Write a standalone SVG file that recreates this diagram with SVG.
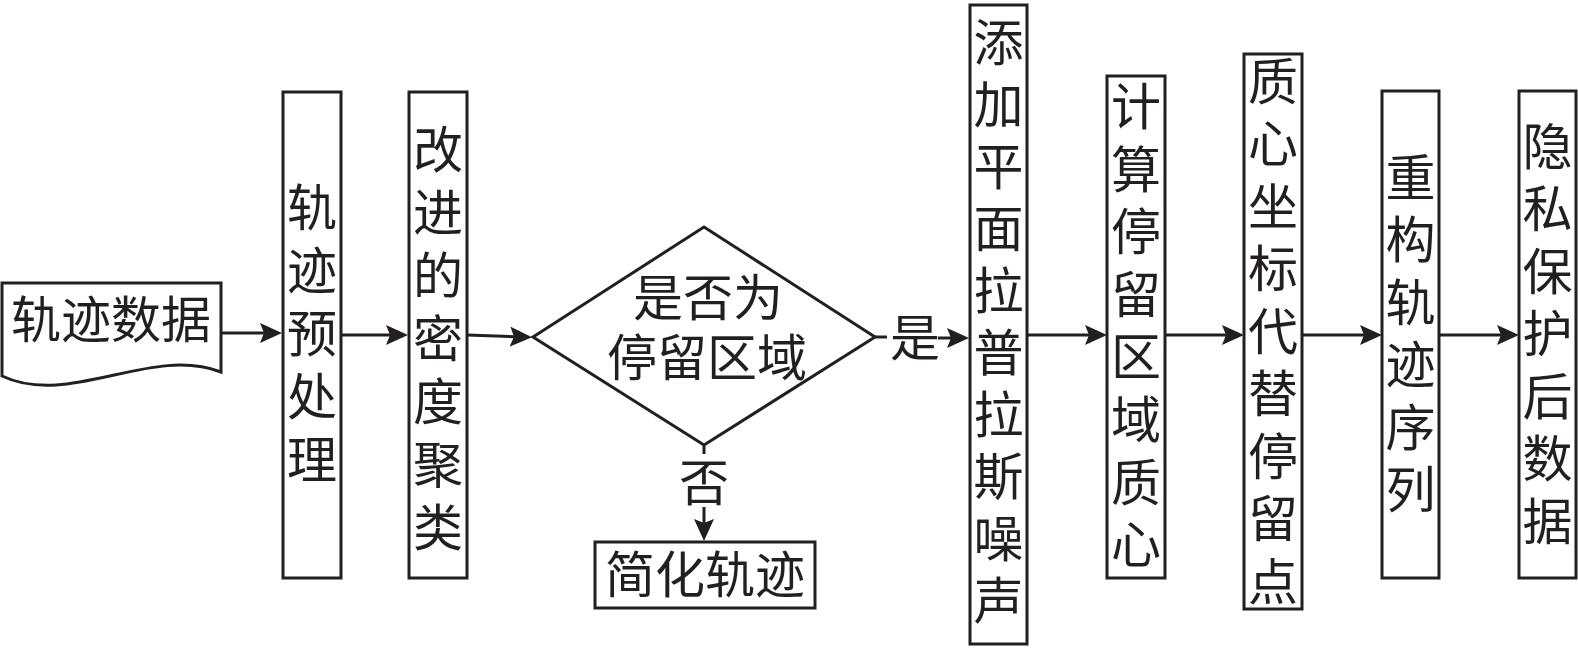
<svg xmlns="http://www.w3.org/2000/svg" width="1578" height="650" viewBox="0 0 1578 650">
<style>
.box{fill:#fff;stroke:#231f20;stroke-width:3}
.ln{fill:none;stroke:#231f20;stroke-width:3}
.t{font-family:"Noto Sans CJK SC","Noto Sans CJK TC",sans-serif;font-size:50px;fill:#231f20}
.c{text-anchor:middle}
</style>
<defs>
<marker id="arr" viewBox="0 0 22 20" refX="12" refY="10" markerWidth="22" markerHeight="20" markerUnits="userSpaceOnUse" orient="auto">
<path d="M0,0 L22,10 L0,20 L4,10 Z" fill="#231f20"/>
</marker>
</defs>
<rect width="1578" height="650" fill="#fff"/>
<g id="connectors">
<line class="ln" x1="221" y1="333" x2="272" y2="333" marker-end="url(#arr)"/>
<line class="ln" x1="341" y1="335" x2="398" y2="335" marker-end="url(#arr)"/>
<line class="ln" x1="467" y1="335" x2="522" y2="337" marker-end="url(#arr)"/>
<line class="ln" x1="875" y1="337" x2="887" y2="337"/>
<line class="ln" x1="938" y1="338" x2="959" y2="338" marker-end="url(#arr)"/>
<text class="t c" x="915" y="356">是</text>
<line class="ln" x1="704" y1="445" x2="704" y2="454"/>
<line class="ln" x1="704" y1="507" x2="704" y2="531" marker-end="url(#arr)"/>
<text class="t c" x="704" y="501">否</text>
<line class="ln" x1="1027" y1="335" x2="1097" y2="335" marker-end="url(#arr)"/>
<line class="ln" x1="1165" y1="335" x2="1234" y2="335" marker-end="url(#arr)"/>
<line class="ln" x1="1302" y1="335" x2="1372" y2="335" marker-end="url(#arr)"/>
<line class="ln" x1="1439" y1="335" x2="1509" y2="335" marker-end="url(#arr)"/>
</g>
<g id="n1">
<path class="box" d="M2,283 L221,283 L221,372 C150,345 70,408 2,376 Z"/>
<text class="t c" x="111" y="338">轨迹数据</text>
</g>
<g id="n2">
<rect class="box" x="283" y="92" width="58" height="486"/>
<text class="t c"><tspan x="312" y="226">轨</tspan><tspan x="312" y="289">迹</tspan><tspan x="312" y="352">预</tspan><tspan x="312" y="415">处</tspan><tspan x="312" y="478">理</tspan></text>
</g>
<g id="n3">
<rect class="box" x="409" y="92" width="58" height="486"/>
<text class="t c"><tspan x="438" y="168">改</tspan><tspan x="438" y="231">进</tspan><tspan x="438" y="294">的</tspan><tspan x="438" y="357">密</tspan><tspan x="438" y="420">度</tspan><tspan x="438" y="483">聚</tspan><tspan x="438" y="546">类</tspan></text>
</g>
<g id="n4">
<path class="box" d="M533,337 L704,227 L875,337 L704,445 Z"/>
<text class="t c" x="708" y="316">是否为</text>
<text class="t c" x="707" y="376">停留区域</text>
</g>
<g id="n5">
<rect class="box" x="595" y="542" width="220" height="66"/>
<text class="t c" x="705" y="593">简化轨迹</text>
</g>
<g id="n6">
<rect class="box" x="970" y="5" width="57" height="639"/>
<text class="t c"><tspan x="998.5" y="61">添</tspan><tspan x="998.5" y="123">加</tspan><tspan x="998.5" y="185">平</tspan><tspan x="998.5" y="247">面</tspan><tspan x="998.5" y="309">拉</tspan><tspan x="998.5" y="371">普</tspan><tspan x="998.5" y="433">拉</tspan><tspan x="998.5" y="495">斯</tspan><tspan x="998.5" y="557">噪</tspan><tspan x="998.5" y="619">声</tspan></text>
</g>
<g id="n7">
<rect class="box" x="1107" y="76" width="58" height="502"/>
<text class="t c"><tspan x="1136" y="125">计</tspan><tspan x="1136" y="188">算</tspan><tspan x="1136" y="250">停</tspan><tspan x="1136" y="313">留</tspan><tspan x="1136" y="375">区</tspan><tspan x="1136" y="438">域</tspan><tspan x="1136" y="501">质</tspan><tspan x="1136" y="563">心</tspan></text>
</g>
<g id="n8">
<rect class="box" x="1244" y="54" width="58" height="555"/>
<text class="t c"><tspan x="1273" y="100">质</tspan><tspan x="1273" y="162">心</tspan><tspan x="1273" y="225">坐</tspan><tspan x="1273" y="287">标</tspan><tspan x="1273" y="350">代</tspan><tspan x="1273" y="412">替</tspan><tspan x="1273" y="475">停</tspan><tspan x="1273" y="537">留</tspan><tspan x="1273" y="600">点</tspan></text>
</g>
<g id="n9">
<rect class="box" x="1382" y="91" width="57" height="487"/>
<text class="t c"><tspan x="1410.5" y="196">重</tspan><tspan x="1410.5" y="258">构</tspan><tspan x="1410.5" y="321">轨</tspan><tspan x="1410.5" y="383">迹</tspan><tspan x="1410.5" y="446">序</tspan><tspan x="1410.5" y="508">列</tspan></text>
</g>
<g id="n10">
<rect class="box" x="1519" y="91" width="57" height="487"/>
<text class="t c"><tspan x="1547.5" y="165">隐</tspan><tspan x="1547.5" y="227">私</tspan><tspan x="1547.5" y="290">保</tspan><tspan x="1547.5" y="352">护</tspan><tspan x="1547.5" y="415">后</tspan><tspan x="1547.5" y="477">数</tspan><tspan x="1547.5" y="540">据</tspan></text>
</g>
</svg>
